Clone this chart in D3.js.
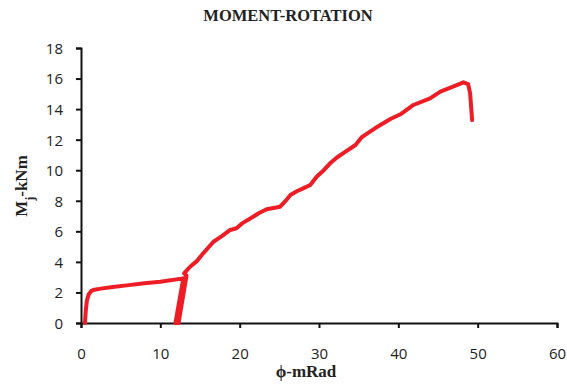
<!DOCTYPE html>
<html><head><meta charset="utf-8">
<script src="https://cdn.jsdelivr.net/npm/d3@7"></script>
<style>body{margin:0;background:#fff}svg{display:block}</style>
</head><body>
<script>
const title = "MOMENT-ROTATION";
const xTicks = [0,10,20,30,40,50,60];
const yTicks = [0,2,4,6,8,10,12,14,16,18];
const rotation = [0.5,0.6,0.75,1.0,1.3,1.7,2.5,4,6,8,10,12.9,11.9,12.3,13.3,13.0,13.75,14.6,15.4,16.7,17.8,18.8,19.6,20.3,21.7,22.4,23.4,25.1,25.7,26.4,27.2,28.0,28.9,29.7,30.6,31.4,32.3,33.3,34.6,35.4,37.1,39.0,40.4,41.9,44.0,45.3,46.9,48.2,48.8,49.05,49.3];
const moment   = [0,0.8,1.5,1.9,2.1,2.18,2.25,2.35,2.48,2.6,2.7,2.92,0,0,3.1,3.25,3.68,4.05,4.56,5.32,5.7,6.09,6.2,6.52,6.96,7.18,7.44,7.61,7.94,8.38,8.62,8.81,9.03,9.57,10.0,10.45,10.85,11.2,11.65,12.17,12.76,13.35,13.7,14.27,14.7,15.14,15.47,15.75,15.64,15.03,13.28];

const W=567,H=387;
const svg=d3.select("body").append("svg").attr("width",W).attr("height",H);
const x=d3.scaleLinear().domain([0,60]).range([81,557]);
const y=d3.scaleLinear().domain([0,18]).range([323,48]);

svg.append("text").attr("x",288).attr("y",21).attr("text-anchor","middle")
  .attr("font-family","Liberation Serif, Times New Roman, serif").attr("font-weight","bold")
  .attr("font-size",16.5).attr("fill","#222").text(title);

const tickFont="'Open Sans', sans-serif";
const xa=svg.append("g").attr("transform","translate(0,323)")
  .call(d3.axisBottom(x).tickValues(xTicks).tickSize(5).tickFormat(d3.format("d")));
const ya=svg.append("g").attr("transform","translate(81,0)")
  .call(d3.axisLeft(y).tickValues(yTicks).tickSize(5).tickFormat(d3.format("d")));
[xa,ya].forEach(g=>{
  g.select(".domain").attr("stroke","#111").attr("stroke-width",2);
  g.selectAll(".tick line").attr("stroke","#111").attr("stroke-width",2);
  g.selectAll(".tick text").attr("font-family",tickFont).attr("font-size",15).attr("fill","#222");
});
xa.selectAll(".tick text").attr("dy","28px");
ya.selectAll(".tick text").attr("dx","-10px").attr("dy","0.36em");

const pts=rotation.map((r,i)=>[r,moment[i]]);
svg.append("path").datum(pts)
  .attr("d",d3.line().x(d=>x(d[0])).y(d=>y(d[1])).curve(d3.curveLinear))
  .attr("fill","none").attr("stroke","#EE1C25").attr("stroke-width",4)
  .attr("stroke-linejoin","round").attr("stroke-linecap","round");

svg.append("text").attr("x",306).attr("y",377).attr("text-anchor","middle")
  .attr("font-family","Liberation Serif, Times New Roman, serif").attr("font-weight","bold")
  .attr("font-size",17).attr("fill","#222").text("ϕ-mRad");

const yl=svg.append("text").attr("transform","translate(27,186) rotate(-90)").attr("text-anchor","middle")
  .attr("font-family","Liberation Serif, Times New Roman, serif").attr("font-weight","bold")
  .attr("font-size",17).attr("fill","#222");
yl.append("tspan").text("M");
yl.append("tspan").attr("baseline-shift","sub").attr("font-size",12).text("j");
yl.append("tspan").text("-kNm");
</script>
</body></html>
